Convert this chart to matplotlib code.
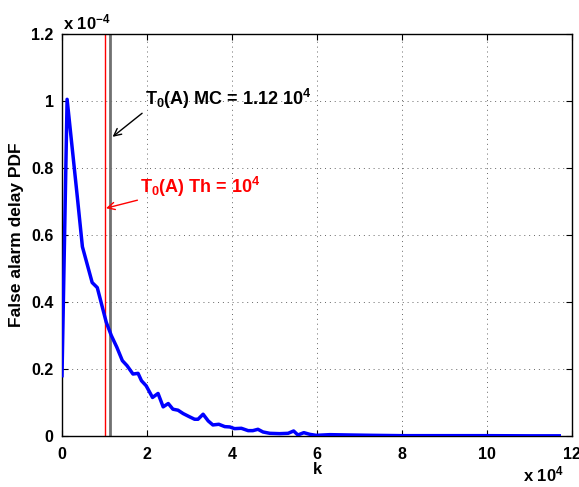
import numpy as np
from matplotlib import pyplot as plt

# k in units of 1e4, pdf in units of 1e-4
K = [0.0, 0.12, 0.36, 0.48, 0.71, 0.83, 1.04, 1.16, 1.29, 1.42, 1.53, 1.67, 1.79, 1.87,
     1.98, 2.13, 2.26, 2.38, 2.50, 2.61, 2.73, 2.85, 2.99, 3.12, 3.20, 3.32, 3.44, 3.55,
     3.69, 3.83, 3.95, 4.06, 4.22, 4.38, 4.49, 4.61, 4.73, 4.89, 5.12, 5.32, 5.45, 5.55,
     5.69, 5.83, 5.98, 6.30, 6.77, 7.30, 8.0, 9.0, 10.0, 11.0, 11.7]
PDF = [0.18, 1.005, 0.714, 0.565, 0.458, 0.443, 0.34, 0.30, 0.265, 0.225, 0.21, 0.185,
       0.187, 0.165, 0.15, 0.115, 0.127, 0.087, 0.097, 0.08, 0.077, 0.067, 0.058, 0.05,
       0.05, 0.065, 0.045, 0.033, 0.035, 0.028, 0.027, 0.022, 0.023, 0.016, 0.016, 0.02,
       0.012, 0.008, 0.007, 0.008, 0.015, 0.003, 0.01, 0.005, 0.002, 0.004, 0.003, 0.002,
       0.001, 0.001, 0.001, 0.0005, 0.0005]

T0_TH = 1.0
T0_MC = 1.12

XTICKS = [0, 2, 4, 6, 8, 10, 12]
YTICKS = [0, 0.2, 0.4, 0.6, 0.8, 1.0, 1.2]
YTICKLABELS = ["0", "0.2", "0.4", "0.6", "0.8", "1", "1.2"]

plt.rcParams['font.family'] = ['Liberation Sans', 'DejaVu Sans']
plt.rcParams['font.weight'] = 'bold'
plt.rcParams['mathtext.fontset'] = 'custom'
plt.rcParams['mathtext.rm'] = 'Liberation Sans:bold'
plt.rcParams['mathtext.bf'] = 'Liberation Sans:bold'
plt.rcParams['mathtext.default'] = 'bf'

fig = plt.figure(figsize=(5.79, 4.87), dpi=100)
ax = fig.add_axes([62 / 579, 51 / 487, 510 / 579, 402 / 487])

ax.plot(K, PDF, color='blue', linewidth=2.5, zorder=3)
ax.axvline(T0_TH, color='red', linewidth=1.0, zorder=2)
ax.axvline(T0_MC, color='#707070', linewidth=2.0, zorder=2)

ax.set_xlim(0, 12)
ax.set_ylim(0, 1.2)
ax.set_xticks(XTICKS)
ax.set_xticklabels([str(t) for t in XTICKS])
ax.set_yticks(YTICKS)
ax.set_yticklabels(YTICKLABELS)
ax.tick_params(direction='in', top=True, right=True, labelsize=11.5, length=4, width=0.8)
ax.tick_params(axis='x', pad=8)
ax.tick_params(axis='y', pad=6)
for lab in ax.get_xticklabels() + ax.get_yticklabels():
    lab.set_fontweight('bold')
ax.grid(True, linestyle=(0, (1, 4)), color='black', linewidth=0.7, alpha=0.6)
for s in ax.spines.values():
    s.set_linewidth(1.0)

ax.set_xlabel("k", fontsize=12, fontweight='bold', labelpad=0)
ax.set_ylabel("False alarm delay PDF", fontsize=12.5, fontweight='bold', labelpad=5)

ax.text(0.002, 1.005, r"x 10$^{-4}$", transform=ax.transAxes, ha='left', va='bottom',
        fontsize=12, fontweight='bold')
ax.text(0.984, -0.07, r"x 10$^{4}$", transform=ax.transAxes, ha='right', va='top',
        fontsize=12, fontweight='bold')

ax.annotate(r"T$_0$(A) MC = 1.12 10$^4$", xy=(1.19, 0.893), xytext=(1.95, 1.006),
            fontsize=13, fontweight='bold', color='black', va='center', ha='left',
            arrowprops=dict(arrowstyle='->', color='black', lw=1.0,
                            shrinkA=0, shrinkB=0, relpos=(0, 0)))
ax.annotate(r"T$_0$(A) Th = 10$^4$", xy=(1.035, 0.68), xytext=(1.84, 0.742),
            fontsize=13, fontweight='bold', color='red', va='center', ha='left',
            arrowprops=dict(arrowstyle='->', color='red', lw=1.0,
                            shrinkA=0, shrinkB=0, relpos=(0, 0)))

fig.savefig("out.png", dpi=100)
